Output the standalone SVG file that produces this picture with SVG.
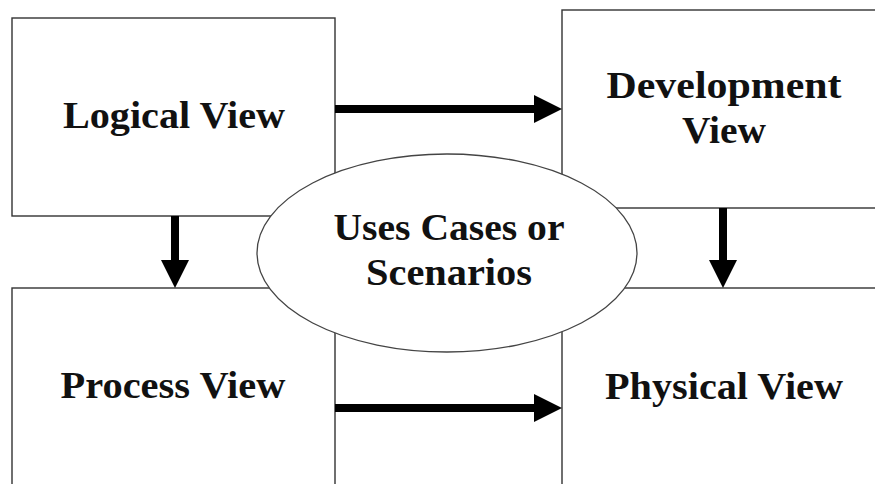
<svg xmlns="http://www.w3.org/2000/svg" width="875" height="484" viewBox="0 0 875 484">
  <style>
    .box { fill: #ffffff; stroke: #333333; stroke-width: 1.4; }
    .oval { fill: #ffffff; stroke: #444444; stroke-width: 1.3; }
    .lbl { font-family: "Liberation Serif", "DejaVu Serif", serif; font-weight: bold; font-size: 37px; fill: #111111; text-anchor: middle; }
    .shaft { stroke: #000000; stroke-width: 8; fill: none; }
    .head { fill: #000000; }
  </style>
  <rect width="875" height="484" fill="#ffffff"/>

  <g id="logical-view">
    <rect class="box" x="12" y="18" width="323" height="198"/>
    <text class="lbl" x="174" y="128" textLength="222" lengthAdjust="spacingAndGlyphs">Logical View</text>
  </g>

  <g id="development-view">
    <rect class="box" x="562" y="10" width="330" height="198"/>
    <text class="lbl" x="724" y="98" textLength="235" lengthAdjust="spacingAndGlyphs">Development</text>
    <text class="lbl" x="724" y="143" textLength="84" lengthAdjust="spacingAndGlyphs">View</text>
  </g>

  <g id="process-view">
    <rect class="box" x="12" y="288" width="323" height="210"/>
    <text class="lbl" x="173" y="398" textLength="225" lengthAdjust="spacingAndGlyphs">Process View</text>
  </g>

  <g id="physical-view">
    <rect class="box" x="562" y="288" width="330" height="210"/>
    <text class="lbl" x="724" y="399" textLength="238" lengthAdjust="spacingAndGlyphs">Physical View</text>
  </g>

  <g id="connectors">
    <!-- logical -> development -->
    <line class="shaft" x1="335" y1="109" x2="536" y2="109"/>
    <polygon class="head" points="534,95 562,109 534,123"/>
    <!-- process -> physical -->
    <line class="shaft" x1="335" y1="408" x2="536" y2="408"/>
    <polygon class="head" points="534,394 562,408 534,422"/>
    <!-- logical -> process -->
    <line class="shaft" x1="175" y1="216" x2="175" y2="262"/>
    <polygon class="head" points="161,260 189,260 175,288"/>
    <!-- development -> physical -->
    <line class="shaft" x1="723" y1="208" x2="723" y2="262"/>
    <polygon class="head" points="709,260 737,260 723,288"/>
  </g>

  <g id="use-cases">
    <ellipse class="oval" cx="447" cy="253" rx="190" ry="99"/>
    <text class="lbl" x="449" y="240" textLength="231" lengthAdjust="spacingAndGlyphs">Uses Cases or</text>
    <text class="lbl" x="449" y="285" textLength="166" lengthAdjust="spacingAndGlyphs">Scenarios</text>
  </g>
</svg>
